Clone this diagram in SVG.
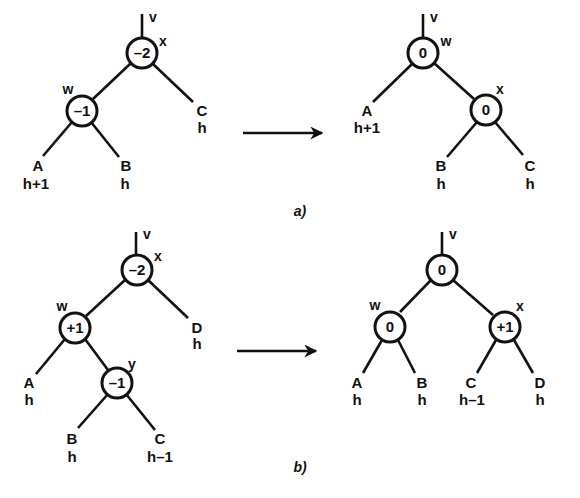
<svg xmlns="http://www.w3.org/2000/svg" width="580" height="498" viewBox="0 0 580 498">
<style>
text{font-family:"Liberation Sans",Arial,sans-serif;font-weight:bold;fill:#111;text-anchor:middle}
.lbl{font-size:15px}
.val{font-size:15px}
.nm{font-size:14px}
.cap{font-size:14px;font-style:italic}
circle{fill:#fff;stroke:#111;stroke-width:3}
#edges line{stroke:#111;stroke-width:2.6}
.arr{stroke:#111;stroke-width:2.4}
</style>
<defs>
<marker id="ah" viewBox="0 0 10 10" refX="9" refY="5" markerWidth="5" markerHeight="5" orient="auto" markerUnits="strokeWidth"><path d="M0,0 L10,5 L0,10 L3,5 Z" fill="#111"/></marker>
</defs>
<rect width="580" height="498" fill="#fff"/>
<g id="edges">
<line x1="142" y1="14" x2="142" y2="39"/>
<line x1="131" y1="63" x2="93" y2="99"/>
<line x1="153" y1="64" x2="193" y2="102"/>
<line x1="72" y1="122" x2="43" y2="156"/>
<line x1="91" y1="122" x2="119" y2="157"/>
<line x1="423" y1="14" x2="423" y2="39"/>
<line x1="412" y1="64" x2="373" y2="102"/>
<line x1="434" y1="63" x2="474" y2="99"/>
<line x1="477" y1="122" x2="447" y2="157"/>
<line x1="495" y1="122" x2="523" y2="155"/>
<line x1="136" y1="232" x2="136" y2="255"/>
<line x1="125" y1="280" x2="86" y2="316"/>
<line x1="148" y1="280" x2="188" y2="318"/>
<line x1="65" y1="339" x2="36" y2="374"/>
<line x1="85" y1="339" x2="108" y2="370"/>
<line x1="108" y1="394" x2="78" y2="428"/>
<line x1="126" y1="394" x2="155" y2="430"/>
<line x1="442" y1="232" x2="442" y2="255"/>
<line x1="431" y1="280" x2="400" y2="312"/>
<line x1="453" y1="280" x2="493" y2="315"/>
<line x1="382" y1="340" x2="363" y2="373"/>
<line x1="398" y1="340" x2="415" y2="373"/>
<line x1="496" y1="340" x2="477" y2="373"/>
<line x1="514" y1="340" x2="533" y2="373"/>
<line class="arr" x1="243" y1="133" x2="322" y2="133" marker-end="url(#ah)"/>
<line class="arr" x1="237" y1="351" x2="316" y2="351" marker-end="url(#ah)"/>
</g>
<g id="a-x"><circle cx="142" cy="53" r="15"/><text class="val" x="142" y="58">–2</text><text class="nm" x="153" y="22">v</text><text class="nm" x="163" y="46">x</text></g>
<g id="a-w"><circle cx="82" cy="111" r="15"/><text class="val" x="82" y="116">–1</text><text class="nm" x="68" y="94">w</text></g>
<g id="a-A"><text class="lbl" x="38" y="171">A</text><text class="lbl" x="36" y="189">h+1</text></g>
<g id="a-B"><text class="lbl" x="126" y="171">B</text><text class="lbl" x="125" y="189">h</text></g>
<g id="a-C"><text class="lbl" x="202" y="116">C</text><text class="lbl" x="202" y="133">h</text></g>
<g id="a2-w"><circle cx="423" cy="53" r="15"/><text class="val" x="423" y="58">0</text><text class="nm" x="434" y="22">v</text><text class="nm" x="446" y="46">w</text></g>
<g id="a2-x"><circle cx="486" cy="110" r="15"/><text class="val" x="486" y="115">0</text><text class="nm" x="500" y="94">x</text></g>
<g id="a2-A"><text class="lbl" x="367" y="116">A</text><text class="lbl" x="367" y="133">h+1</text></g>
<g id="a2-B"><text class="lbl" x="441" y="171">B</text><text class="lbl" x="441" y="189">h</text></g>
<g id="a2-C"><text class="lbl" x="530" y="171">C</text><text class="lbl" x="530" y="189">h</text></g>
<text class="cap" x="300" y="216">a)</text>
<g id="b-x"><circle cx="137" cy="270" r="15"/><text class="val" x="137" y="275">–2</text><text class="nm" x="147" y="239">v</text><text class="nm" x="158" y="261">x</text></g>
<g id="b-w"><circle cx="75" cy="328" r="15"/><text class="val" x="75" y="333">+1</text><text class="nm" x="62" y="311">w</text></g>
<g id="b-y"><circle cx="117" cy="383" r="15"/><text class="val" x="117" y="388">–1</text><text class="nm" x="132" y="369">y</text></g>
<g id="b-A"><text class="lbl" x="29" y="388">A</text><text class="lbl" x="29" y="405">h</text></g>
<g id="b-B"><text class="lbl" x="72" y="444">B</text><text class="lbl" x="72" y="462">h</text></g>
<g id="b-C"><text class="lbl" x="160" y="444">C</text><text class="lbl" x="160" y="462">h–1</text></g>
<g id="b-D"><text class="lbl" x="197" y="333">D</text><text class="lbl" x="197" y="349">h</text></g>
<g id="b2-y"><circle cx="442" cy="270" r="15"/><text class="val" x="442" y="275">0</text><text class="nm" x="453" y="239">v</text></g>
<g id="b2-w"><circle cx="390" cy="327" r="15"/><text class="val" x="390" y="332">0</text><text class="nm" x="375" y="310">w</text></g>
<g id="b2-x"><circle cx="505" cy="327" r="15"/><text class="val" x="505" y="332">+1</text><text class="nm" x="520" y="311">x</text></g>
<g id="b2-A"><text class="lbl" x="357" y="388">A</text><text class="lbl" x="357" y="405">h</text></g>
<g id="b2-B"><text class="lbl" x="422" y="388">B</text><text class="lbl" x="422" y="405">h</text></g>
<g id="b2-C"><text class="lbl" x="471" y="388">C</text><text class="lbl" x="472" y="405">h–1</text></g>
<g id="b2-D"><text class="lbl" x="540" y="388">D</text><text class="lbl" x="540" y="405">h</text></g>
<text class="cap" x="300" y="472">b)</text>
</svg>
